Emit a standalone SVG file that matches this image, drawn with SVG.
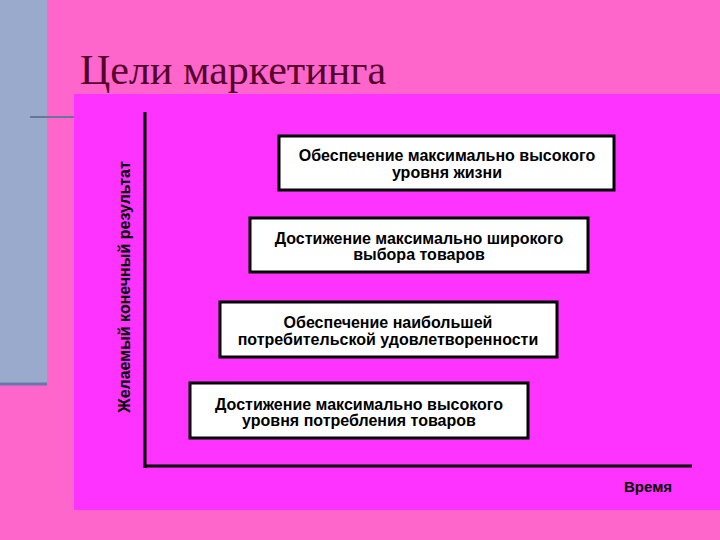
<svg xmlns="http://www.w3.org/2000/svg" width="720" height="540" viewBox="0 0 720 540">
<style>
.box{fill:#fff;stroke:#000;stroke-width:3}
.t{font-family:"Liberation Sans",Arial,sans-serif;font-size:16px;font-weight:bold;fill:#000;text-anchor:middle}
</style>
<rect width="720" height="540" fill="#FF66CC"/>
<rect x="0" y="0" width="47" height="384" fill="#99AACC"/>
<line x1="0" y1="384" x2="47" y2="384" stroke="#6677AA" stroke-width="3"/>
<line x1="30" y1="117" x2="75" y2="117" stroke="#667799" stroke-width="2"/>
<text x="80" y="84" font-family="Liberation Serif,serif" font-size="42" fill="#55002A">Цели маркетинга</text>
<rect x="74" y="94" width="646" height="416" fill="#FF33FF"/>
<g id="axes" stroke="#000" stroke-width="3">
<line x1="145" y1="112" x2="145" y2="468"/>
<line x1="145" y1="466" x2="692" y2="466"/>
</g>
<text transform="translate(130,287) rotate(-90)" class="t">Желаемый конечный результат</text>
<text x="648" y="492" class="t" style="font-size:15px">Время</text>
<g id="n1"><rect class="box" x="279" y="136" width="335" height="54"/><text class="t" x="447" y="161">Обеспечение максимально высокого</text><text class="t" x="447" y="178">уровня жизни</text></g>
<g id="n2"><rect class="box" x="250" y="218" width="338" height="54"/><text class="t" x="419" y="244">Достижение максимально широкого</text><text class="t" x="419" y="260">выбора товаров</text></g>
<g id="n3"><rect class="box" x="220" y="302" width="337" height="55"/><text class="t" x="388" y="328">Обеспечение наибольшей</text><text class="t" x="388" y="345">потребительской удовлетворенности</text></g>
<g id="n4"><rect class="box" x="190" y="383" width="338" height="55"/><text class="t" x="359" y="410">Достижение максимально высокого</text><text class="t" x="359" y="426">уровня потребления товаров</text></g>
</svg>
